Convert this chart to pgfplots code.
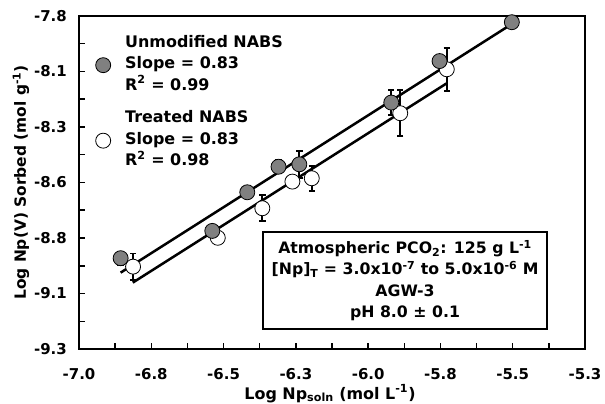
\documentclass[border=0pt]{standalone}
\usepackage{fontspec}
\setmainfont{DejaVu Sans}
\usepackage{pgfplots}
\usepackage{pgfplotstable}
\pgfplotsset{compat=1.18}
\definecolor{markgray}{RGB}{128,128,128}

\pgfplotstableread{
x y e
-6.856 -8.891 0.030
-6.539 -8.768 0.000
-6.418 -8.594 0.000
-6.310 -8.479 0.030
-6.238 -8.468 0.060
-5.920 -8.190 0.055
-5.753 -8.003 0.000
-5.503 -7.828 0.000
}\unmod

\pgfplotstableread{
x y e
-6.813 -8.929 0.059
-6.520 -8.799 0.000
-6.366 -8.666 0.059
-6.262 -8.546 0.000
-6.195 -8.531 0.056
-5.889 -8.238 0.104
-5.728 -8.040 0.097
}\treated

\begin{document}
\bfseries
\begin{tikzpicture}
\useasboundingbox (-79bp,-55bp) rectangle (526bp,349bp);
\begin{axis}[
  at={(0,0)}, anchor=south west,
  scale only axis, width=506bp, height=333bp,
  xmin=-7, xmax=-5.25, ymin=-9.3, ymax=-7.8,
  xtick={-7,-6.75,-6.5,-6.25,-6,-5.75,-5.5,-5.25},
  xticklabels={-7.0,-6.8,-6.5,-6.3,-6.0,-5.8,-5.5,-5.3},
  ytick={-9.3,-9.05,-8.8,-8.55,-8.3,-8.05,-7.8},
  yticklabels={-9.3,-9.1,-8.8,-8.6,-8.3,-8.1,-7.8},
  minor x tick num=1, minor y tick num=1,
  xtick pos=bottom, ytick pos=left,
  tick align=inside,
  major tick length=6bp, minor tick length=6bp,
  tick style={line width=1.5bp, black},
  axis line style={line width=2.5bp},
  xticklabel style={font=\bfseries\fontsize{15}{18}\selectfont, anchor=center, yshift=-25bp},
  yticklabel style={font=\bfseries\fontsize{15}{18}\selectfont, anchor=east, inner sep=0pt, xshift=-12bp},
  xlabel={Log Np\textsubscript{soln} (mol L\textsuperscript{-1})},
  ylabel={Log Np(V) Sorbed (mol g\textsuperscript{-1})},
  xlabel style={font=\bfseries\fontsize{16}{18}\selectfont, at={(axis description cs:0.496,-0.134)}, anchor=center},
  ylabel style={font=\bfseries\fontsize{15.5}{18}\selectfont, at={(axis description cs:-0.1146,0.5)}, anchor=center},
  legend style={at={(axis description cs:0.0306,0.94)}, anchor=north west, draw=none, fill=none,
    font=\bfseries\fontsize{16}{21}\selectfont, inner sep=0pt,
    row sep=6.5bp, column sep=14.5bp,
    nodes={inner sep=0pt, text height=11bp, text depth=4bp}},
  legend cell align=left,
]
\addplot[only marks, mark=*, mark size=7.5bp, forget plot,
  mark options={fill=white, draw=black, line width=0.8bp},
  error bars/.cd, y dir=both, y explicit,
  error bar style={line width=1.8bp, black},
  error mark options={rotate=90, mark size=3.2bp, line width=1.8bp, black}]
  table[x=x, y=y, y error=e]{\treated};
\addplot[only marks, mark=*, mark size=7.5bp, forget plot,
  mark options={fill=markgray, draw=black, line width=0.8bp},
  error bars/.cd, y dir=both, y explicit,
  error bar style={line width=1.8bp, black},
  error mark options={rotate=90, mark size=3.2bp, line width=1.8bp, black}]
  table[x=x, y=y, y error=e]{\unmod};
\addplot[black, line width=2.5bp, forget plot] coordinates {(-6.856,-8.956) (-5.503,-7.836)};
\addplot[black, line width=2.5bp, forget plot] coordinates {(-6.814,-9.001) (-5.728,-8.103)};

\addlegendimage{empty legend}
\addlegendentry{Unmodified NABS}
\addlegendimage{only marks, mark=*, mark size=7.5bp, mark options={fill=markgray, draw=black, line width=0.8bp}}
\addlegendentry{Slope = 0.83}
\addlegendimage{empty legend}
\addlegendentry{R\textsuperscript{2} = 0.99}
\addlegendimage{empty legend}
\addlegendentry[text height=22bp]{Treated NABS}
\addlegendimage{only marks, mark=*, mark size=7.5bp, mark options={fill=white, draw=black, line width=0.8bp}}
\addlegendentry{Slope = 0.83}
\addlegendimage{empty legend}
\addlegendentry{R\textsuperscript{2} = 0.98}

\node[draw=black, line width=2.5bp, fill=white, minimum width=284bp, minimum height=97bp,
  align=center, inner sep=0pt, font=\bfseries\fontsize{15.8}{21.5}\selectfont]
  at (axis cs:-5.8724,-8.9914)
  {Atmospheric PCO\textsubscript{2}: 125 g L\textsuperscript{-1}\\
   {[Np]}\textsubscript{T} = 3.0x10\textsuperscript{-7} to 5.0x10\textsuperscript{-6} M\\
   AGW-3\\
   pH 8.0 ± 0.1};
\end{axis}
\end{tikzpicture}
\end{document}
